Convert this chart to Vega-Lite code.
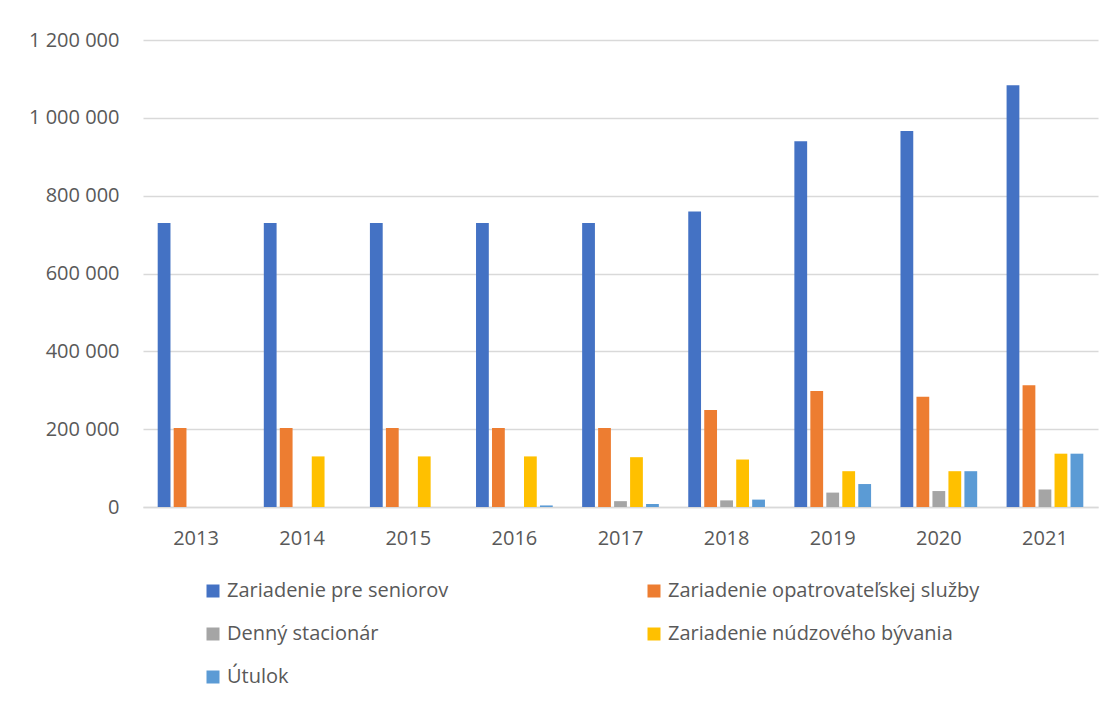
{
  "$schema": "https://vega.github.io/schema/vega-lite/v6.json",
  "width": 955,
  "height": 467,
  "autosize": {"type": "none"},
  "padding": {"left": 143, "top": 40, "right": 18, "bottom": 201},
  "background": "white",
  "config": {
    "locale": {"number": {"decimal": ",", "thousands": " ", "grouping": [3], "currency": ["", " €"]}},
    "view": {"stroke": null},
    "font": "Open Sans"
  },
  "data": {
    "values": [
      {"rok": "2013", "typ": "Zariadenie pre seniorov", "hodnota": 730000},
      {"rok": "2013", "typ": "Zariadenie opatrovateľskej služby", "hodnota": 203000},
      {"rok": "2014", "typ": "Zariadenie pre seniorov", "hodnota": 730000},
      {"rok": "2014", "typ": "Zariadenie opatrovateľskej služby", "hodnota": 203000},
      {"rok": "2014", "typ": "Zariadenie núdzového bývania", "hodnota": 130000},
      {"rok": "2015", "typ": "Zariadenie pre seniorov", "hodnota": 730000},
      {"rok": "2015", "typ": "Zariadenie opatrovateľskej služby", "hodnota": 203000},
      {"rok": "2015", "typ": "Zariadenie núdzového bývania", "hodnota": 130000},
      {"rok": "2016", "typ": "Zariadenie pre seniorov", "hodnota": 730000},
      {"rok": "2016", "typ": "Zariadenie opatrovateľskej služby", "hodnota": 203000},
      {"rok": "2016", "typ": "Zariadenie núdzového bývania", "hodnota": 130000},
      {"rok": "2016", "typ": "Útulok", "hodnota": 4000},
      {"rok": "2017", "typ": "Zariadenie pre seniorov", "hodnota": 730000},
      {"rok": "2017", "typ": "Zariadenie opatrovateľskej služby", "hodnota": 203000},
      {"rok": "2017", "typ": "Denný stacionár", "hodnota": 15000},
      {"rok": "2017", "typ": "Zariadenie núdzového bývania", "hodnota": 128000},
      {"rok": "2017", "typ": "Útulok", "hodnota": 8000},
      {"rok": "2018", "typ": "Zariadenie pre seniorov", "hodnota": 759000},
      {"rok": "2018", "typ": "Zariadenie opatrovateľskej služby", "hodnota": 249000},
      {"rok": "2018", "typ": "Denný stacionár", "hodnota": 17000},
      {"rok": "2018", "typ": "Zariadenie núdzového bývania", "hodnota": 122000},
      {"rok": "2018", "typ": "Útulok", "hodnota": 19000},
      {"rok": "2019", "typ": "Zariadenie pre seniorov", "hodnota": 940000},
      {"rok": "2019", "typ": "Zariadenie opatrovateľskej služby", "hodnota": 298000},
      {"rok": "2019", "typ": "Denný stacionár", "hodnota": 37000},
      {"rok": "2019", "typ": "Zariadenie núdzového bývania", "hodnota": 92000},
      {"rok": "2019", "typ": "Útulok", "hodnota": 59000},
      {"rok": "2020", "typ": "Zariadenie pre seniorov", "hodnota": 966000},
      {"rok": "2020", "typ": "Zariadenie opatrovateľskej služby", "hodnota": 283000},
      {"rok": "2020", "typ": "Denný stacionár", "hodnota": 41000},
      {"rok": "2020", "typ": "Zariadenie núdzového bývania", "hodnota": 92000},
      {"rok": "2020", "typ": "Útulok", "hodnota": 92000},
      {"rok": "2021", "typ": "Zariadenie pre seniorov", "hodnota": 1084000},
      {"rok": "2021", "typ": "Zariadenie opatrovateľskej služby", "hodnota": 313000},
      {"rok": "2021", "typ": "Denný stacionár", "hodnota": 45000},
      {"rok": "2021", "typ": "Zariadenie núdzového bývania", "hodnota": 137000},
      {"rok": "2021", "typ": "Útulok", "hodnota": 137000}
    ]
  },
  "mark": {"type": "bar"},
  "encoding": {
    "x": {
      "field": "rok",
      "type": "nominal",
      "scale": {"paddingInner": 0.277, "paddingOuter": 0.1385},
      "axis": {
        "title": null,
        "labelAngle": 0,
        "labelFont": "Open Sans",
        "labelFontSize": 20,
        "labelColor": "#595959",
        "labelPadding": 21,
        "ticks": false,
        "domain": true,
        "domainColor": "#D9D9D9",
        "domainWidth": 1.5,
        "grid": false
      }
    },
    "xOffset": {
      "field": "typ",
      "type": "nominal",
      "scale": {
        "domain": ["Zariadenie pre seniorov", "Zariadenie opatrovateľskej služby", "Denný stacionár", "Zariadenie núdzového bývania", "Útulok"],
        "paddingInner": 0.2,
        "paddingOuter": 0
      }
    },
    "y": {
      "field": "hodnota",
      "type": "quantitative",
      "scale": {"domain": [0, 1200000], "nice": false},
      "axis": {
        "title": null,
        "values": [0, 200000, 400000, 600000, 800000, 1000000, 1200000],
        "format": ",d",
        "labelFont": "Open Sans",
        "labelFontSize": 20,
        "labelColor": "#595959",
        "labelPadding": 24,
        "ticks": false,
        "domain": false,
        "grid": true,
        "gridColor": "#D9D9D9",
        "gridWidth": 1.5
      }
    },
    "color": {
      "field": "typ",
      "type": "nominal",
      "scale": {
        "domain": ["Zariadenie pre seniorov", "Zariadenie opatrovateľskej služby", "Denný stacionár", "Zariadenie núdzového bývania", "Útulok"],
        "range": ["#4472C4", "#ED7D31", "#A5A5A5", "#FFC000", "#5B9BD5"]
      },
      "legend": {
        "orient": "none",
        "direction": "horizontal",
        "legendX": 60,
        "legendY": 541,
        "columns": 2,
        "columnPadding": 195,
        "rowPadding": 23,
        "symbolType": "square",
        "symbolSize": 169,
        "symbolStrokeWidth": 0,
        "labelFont": "Open Sans",
        "labelFontSize": 20,
        "labelColor": "#595959",
        "labelOffset": 4,
        "labelLimit": 500,
        "title": null,
        "padding": 0
      }
    }
  }
}
